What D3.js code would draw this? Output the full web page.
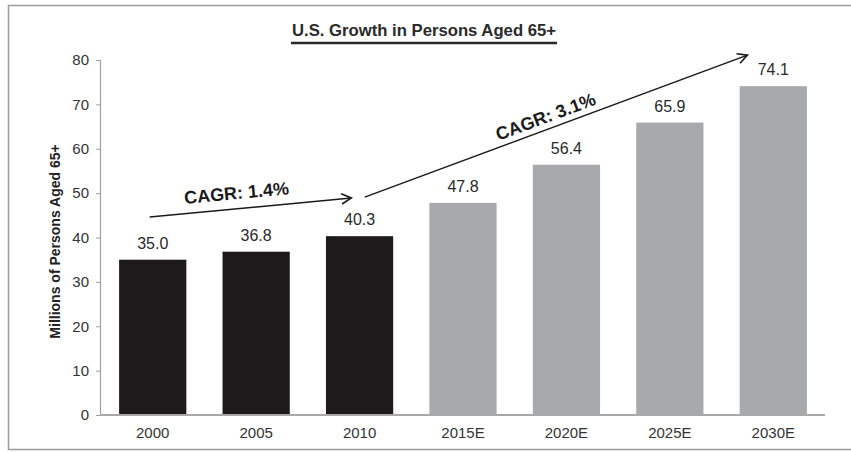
<!DOCTYPE html>
<html>
<head>
<meta charset="utf-8">
<script src="https://cdn.jsdelivr.net/npm/d3@7"></script>
<style>
  html, body { margin: 0; padding: 0; background: #fff; }
  svg { display: block; font-family: "Liberation Sans", Arial, Helvetica, sans-serif; }
</style>
</head>
<body>
<svg id="chart" width="851" height="452"></svg>
<script>
// ---- data ----
const categories = ["2000", "2005", "2010", "2015E", "2020E", "2025E", "2030E"];
const values = [35.0, 36.8, 40.3, 47.8, 56.4, 65.9, 74.1];
const isEstimate = [false, false, false, true, true, true, true];
const yTicks = [0, 10, 20, 30, 40, 50, 60, 70, 80];
const title = "U.S. Growth in Persons Aged 65+";
const yTitle = "Millions of Persons Aged 65+";
// CAGR annotations: arrow endpoints in (category index, value) units
const cagrLabels = ["CAGR: 1.4%", "CAGR: 3.1%"];
const cagrArrowIdx = [[-0.03, 1.92], [2.05, 5.75]];
const cagrArrowVal = [[44.6, 48.9], [49.1, 81.1]];
const cagrLabelIdx = [0.81, 3.80];
const cagrLabelVal = [50.0, 67.2];

// ---- layout ----
const svg = d3.select("#chart");
const plot = { left: 101, right: 825, top: 60, bottom: 415 };

const x = d3.scaleBand().domain(categories).range([plot.left, plot.right]).paddingInner(0.35).paddingOuter(0.175);
const y = d3.scaleLinear().domain([0, 80]).range([plot.bottom, plot.top]);
const xi = d3.scaleLinear().domain([0, 1]).range([x(categories[0]) + x.bandwidth() / 2, x(categories[1]) + x.bandwidth() / 2]);

// frame
svg.append("path")
  .attr("d", `M851,5.5 H8.5 V449.5 H851`)
  .attr("fill", "none").attr("stroke", "#9c9c9c").attr("stroke-width", 1.5);

// title
svg.append("text")
  .attr("x", 424).attr("y", 36)
  .attr("text-anchor", "middle")
  .attr("font-size", 16.5).attr("font-weight", "bold").attr("fill", "#2a2a2a")
  .attr("textLength", 264).attr("lengthAdjust", "spacingAndGlyphs")
  .text(title);
svg.append("line")
  .attr("x1", 291).attr("x2", 557).attr("y1", 43).attr("y2", 43)
  .attr("stroke", "#2a2a2a").attr("stroke-width", 2.5);

// bars
svg.append("g").selectAll("rect").data(values).join("rect")
  .attr("x", (d, i) => x(categories[i]))
  .attr("width", x.bandwidth())
  .attr("y", d => y(d))
  .attr("height", d => y(0) - y(d))
  .attr("fill", (d, i) => isEstimate[i] ? "#a8a9ab" : "#1c1a1b");

// y axis
const yAxis = svg.append("g")
  .attr("transform", `translate(${plot.left - 1},0)`)
  .call(d3.axisLeft(y).tickValues(yTicks).tickSize(4).tickPadding(7).tickFormat(d3.format("d")));
yAxis.select(".domain").attr("stroke", "#a0a0a0").attr("stroke-width", 1.2);
yAxis.selectAll(".tick line").attr("stroke", "#a0a0a0");
yAxis.selectAll(".tick text").attr("font-size", 15).attr("fill", "#333").attr("font-family", "Liberation Sans, Arial, sans-serif");

// x axis
const xAxis = svg.append("g")
  .attr("transform", `translate(0,${plot.bottom})`)
  .call(d3.axisBottom(x).tickSize(0).tickPadding(12).tickSizeOuter(0));
xAxis.select(".domain").attr("stroke", "#a8a8a8").attr("stroke-width", 2).attr("d", `M${plot.left - 1},0H${plot.right}`);
xAxis.selectAll(".tick text").attr("font-size", 15).attr("fill", "#333").attr("font-family", "Liberation Sans, Arial, sans-serif");

// y title
svg.append("text")
  .attr("transform", `translate(60,${(plot.top + plot.bottom) / 2 + 4}) rotate(-90)`)
  .attr("text-anchor", "middle")
  .attr("font-size", 14).attr("font-weight", "bold").attr("fill", "#222")
  .text(yTitle);

// value labels
svg.append("g").selectAll("text").data(values).join("text")
  .attr("x", (d, i) => x(categories[i]) + x.bandwidth() / 2)
  .attr("y", d => y(d) - 11)
  .attr("text-anchor", "middle")
  .attr("font-size", 16).attr("fill", "#2a2a2a")
  .text(d => d.toFixed(1));

// CAGR arrows
const ann = svg.append("g");
cagrLabels.forEach((lab, k) => {
  const x1 = xi(cagrArrowIdx[k][0]), x2 = xi(cagrArrowIdx[k][1]);
  const y1 = y(cagrArrowVal[k][0]), y2 = y(cagrArrowVal[k][1]);
  const ang = Math.atan2(y2 - y1, x2 - x1);
  ann.append("line").attr("x1", x1).attr("y1", y1).attr("x2", x2).attr("y2", y2)
    .attr("stroke", "#1a1a1a").attr("stroke-width", 1.5);
  const L = 11, spread = Math.PI / 6.5;
  const a1 = [x2 - L * Math.cos(ang - spread), y2 - L * Math.sin(ang - spread)];
  const a2 = [x2 - L * Math.cos(ang + spread), y2 - L * Math.sin(ang + spread)];
  ann.append("path")
    .attr("d", `M${a1[0]},${a1[1]} L${x2},${y2} L${a2[0]},${a2[1]}`)
    .attr("fill", "none").attr("stroke", "#1a1a1a").attr("stroke-width", 1.6);
  const deg = ang * 180 / Math.PI;
  ann.append("text")
    .attr("transform", `translate(${xi(cagrLabelIdx[k])},${y(cagrLabelVal[k])}) rotate(${deg})`)
    .attr("text-anchor", "middle").attr("dominant-baseline", "central")
    .attr("font-size", 18).attr("font-weight", "bold").attr("fill", "#1a1a1a")
    .text(lab);
});
</script>
</body>
</html>
